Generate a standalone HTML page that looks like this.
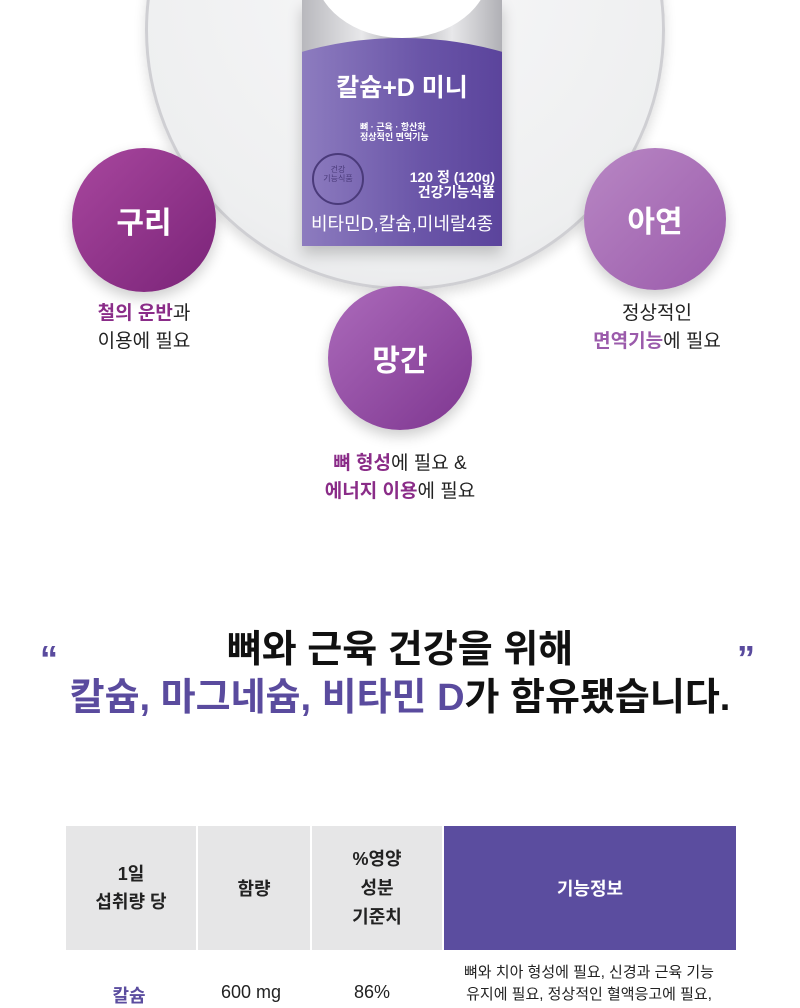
<!DOCTYPE html>
<html><head><meta charset="utf-8"><style>
body{margin:0;width:800px;height:1000px;overflow:hidden;background:#fff;font-family:"Liberation Sans","Noto Sans CJK KR",sans-serif;position:relative}
.a{position:absolute}
.c{position:absolute;border-radius:50%;color:#fff;font-weight:700;font-size:30px;display:flex;align-items:center;justify-content:center;box-shadow:0 6px 14px rgba(0,0,0,.2)}
.t{position:absolute;text-align:center;font-size:19px;line-height:28px;color:#222;width:260px}
.p{color:#8a2c88;font-weight:700}
.q{color:#5a4b9e}
td{text-align:center;font-size:18px;font-weight:700;color:#222}
</style></head><body>
<div class="a" style="left:145px;top:-230px;width:520px;height:520px;border-radius:50%;box-sizing:border-box;border:3px solid #cfcfd3;background:radial-gradient(circle at 50% 40%,#f7f7f8 0%,#eeeff0 70%,#e2e2e5 96%,#d2d2d6 100%);box-shadow:0 6px 12px rgba(0,0,0,.14)"></div>
<!-- box -->
<div class="a" style="left:302px;top:0;width:200px;height:246px;background:linear-gradient(90deg,#b8b8bd,#e8e8ea 30%,#a9a9ae 50%,#e8e8ea 75%,#b0b0b5);box-shadow:0 8px 14px rgba(0,0,0,.2)"></div>
<div class="a" style="left:302px;top:38px;width:200px;height:208px;background:linear-gradient(90deg,#8d7cbf,#6a55a8 60%,#5b449c);clip-path:ellipse(140% 100% at 50% 100%)"></div>
<div class="a" style="left:314px;top:-100px;width:176px;height:138px;border-radius:50%;background:#fff"></div>
<div class="a" style="left:302px;top:68px;width:200px;text-align:center;color:#fff;font-weight:700;font-size:25px">칼슘+D 미니</div>
<div class="a" style="left:360px;top:122px;color:#fff;font-size:9px;line-height:10px;font-weight:700">뼈 · 근육 · 항산화<br>정상적인 면역기능</div>
<div class="a" style="left:312px;top:153px;width:52px;height:52px;border-radius:50%;border:2px solid #4a3a7a;color:#4a3a7a;font-size:8px;text-align:center;line-height:9px;box-sizing:border-box;padding-top:10px">건강<br>기능식품</div>
<div class="a" style="left:370px;top:170px;width:125px;text-align:right;color:#fff;font-weight:700;font-size:14px;line-height:15px">120 정 (120g)<br>건강기능식품</div>
<div class="a" style="left:302px;top:210px;width:200px;text-align:center;color:#fff;font-size:18px">비타민D,칼슘,미네랄4종</div>
<!-- circles -->
<div class="c" style="left:72px;top:148px;width:144px;height:144px;background:linear-gradient(135deg,#a8479e,#7a2378)">구리</div>
<div class="c" style="left:584px;top:148px;width:142px;height:142px;background:linear-gradient(135deg,#b887c4,#9b5bab)">아연</div>
<div class="c" style="left:328px;top:286px;width:144px;height:144px;background:linear-gradient(135deg,#ac6bbb,#7e3690)">망간</div>
<div class="t" style="left:14px;top:300px"><span class="p">철의 운반</span>과<br>이용에 필요</div>
<div class="t" style="left:527px;top:300px">정상적인<br><span class="p" style="color:#9b5bab">면역기능</span>에 필요</div>
<div class="t" style="left:270px;top:450px"><span class="p">뼈 형성</span>에 필요 &amp;<br><span class="p">에너지 이용</span>에 필요</div>
<!-- quote -->
<div class="a q" style="left:40px;top:638px;font-size:36px;font-weight:700">“</div>
<div class="a q" style="left:737px;top:638px;font-size:36px;font-weight:700">”</div>
<div class="a" style="left:0;top:626px;width:800px;text-align:center;font-size:38px;font-weight:700;color:#111;line-height:48px">뼈와 근육 건강을 위해<br><span class="q">칼슘, 마그네슘, 비타민 D</span>가 함유됐습니다.</div>
<!-- table -->
<table class="a" style="left:64px;top:826px;border-collapse:separate;border-spacing:2px 0;width:674px">
<tr style="height:124px"><td style="background:#e6e6e7;width:128px;line-height:28px">1일<br>섭취량 당</td><td style="background:#e6e6e7;width:110px">함량</td><td style="background:#e6e6e7;width:128px;line-height:29px">%영양<br>성분<br>기준치</td><td style="background:#5b4d9f;color:#fff">기능정보</td></tr>
</table>
<div class="a" style="left:64px;top:982px;width:130px;text-align:center;color:#5b4d9f;font-weight:700;font-size:18px">칼슘</div>
<div class="a" style="left:196px;top:982px;width:110px;text-align:center;font-size:18px;color:#222">600 mg</div>
<div class="a" style="left:308px;top:982px;width:128px;text-align:center;font-size:18px;color:#222">86%</div>
<div class="a" style="left:440px;top:962px;width:298px;text-align:center;font-size:15px;line-height:22px;color:#222">뼈와 치아 형성에 필요, 신경과 근육 기능<br>유지에 필요, 정상적인 혈액응고에 필요,</div>
</body></html>
